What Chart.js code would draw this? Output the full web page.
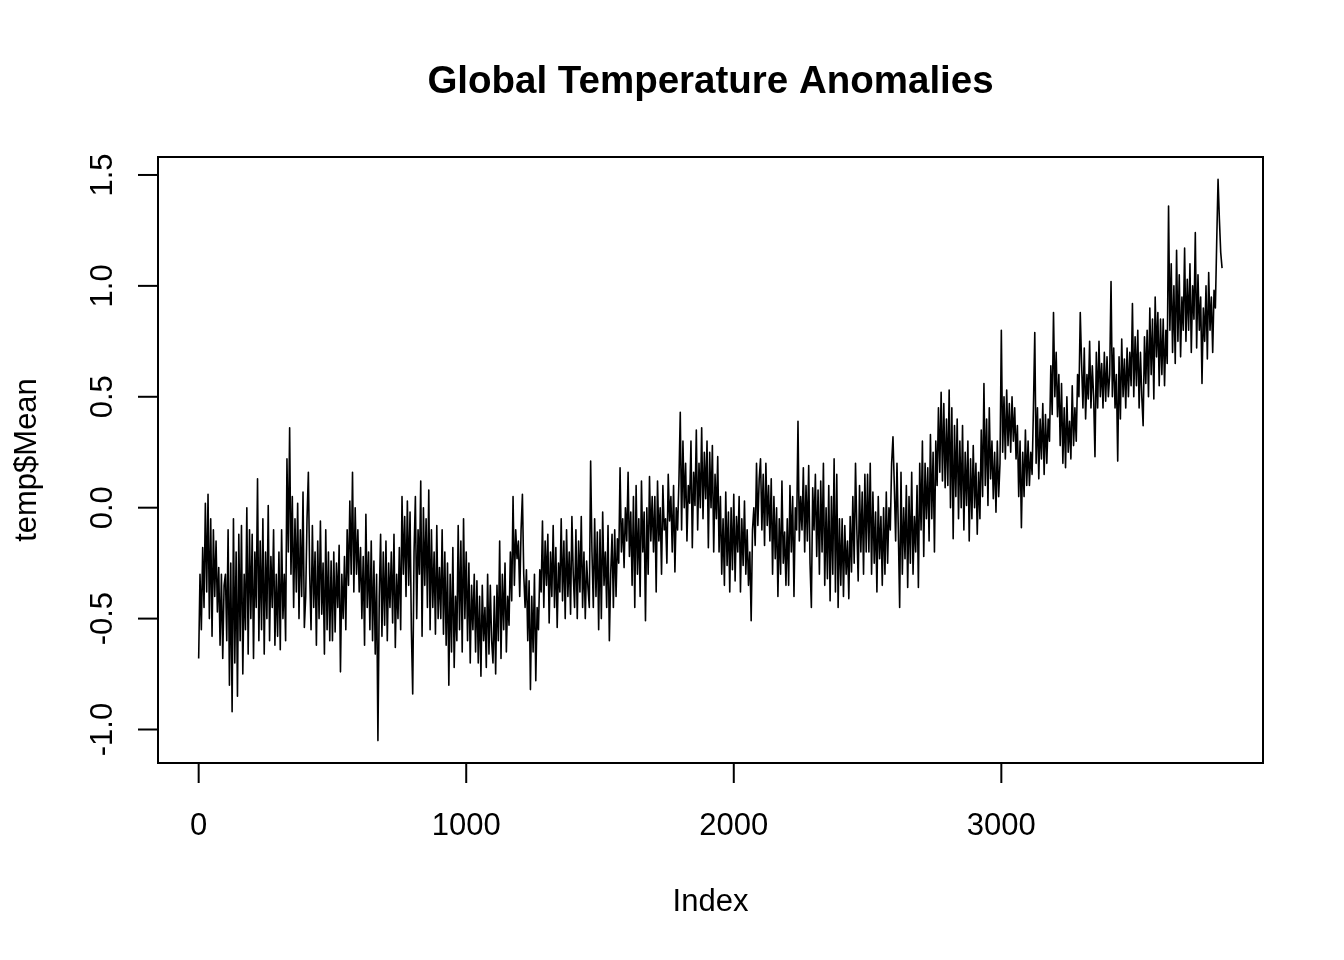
<!DOCTYPE html>
<html>
<head>
<meta charset="utf-8">
<script src="https://cdn.jsdelivr.net/npm/chart.js@4"></script>
<style>
  html, body { margin: 0; padding: 0; background: #ffffff; }
  #wrap { width: 1344px; height: 960px; }
</style>
</head>
<body>
<div id="wrap"><canvas id="c" width="1344" height="960"></canvas></div>
<script>
// ---- data (one value every INDEX_STEP indices) ----
const INDEX_STEP = 5;
const TEMP_MEAN = [
  -0.68, -0.3, -0.55, -0.18, -0.45, 0.02, -0.38, 0.06, -0.5, -0.05, -0.58, -0.1, -0.4, -0.15, -0.47, -0.27, -0.62, -0.3, -0.68, -0.35,
  -0.3, -0.6, -0.1, -0.8, -0.25, -0.92, -0.05, -0.7, -0.2, -0.85, -0.12, -0.6, -0.08, -0.75, -0.3, -0.55, 0.0, -0.66, -0.1, -0.5,
  -0.12, -0.68, -0.2, -0.45, 0.13, -0.6, -0.15, -0.55, -0.05, -0.66, -0.2, -0.5, 0.01, -0.6, -0.22, -0.45, -0.1, -0.62, -0.3, -0.58,
  -0.2, -0.64, -0.1, -0.5, -0.3, -0.6, 0.22, -0.2, 0.36, -0.3, 0.05, -0.45, -0.05, -0.38, 0.02, -0.5, -0.1, -0.4, 0.07, -0.54,
  -0.4, -0.05, 0.16, -0.3, -0.55, -0.08, -0.45, -0.2, -0.62, -0.15, -0.5, -0.06, -0.48, -0.25, -0.66, -0.1, -0.55, -0.2, -0.6, -0.24,
  -0.6, -0.2, -0.56, -0.25, -0.45, -0.17, -0.74, -0.3, -0.5, -0.22, -0.55, -0.1, -0.35, 0.03, -0.3, 0.16, -0.38, 0.0, -0.3, -0.1,
  -0.38, -0.18, -0.5, -0.22, -0.62, -0.03, -0.45, -0.2, -0.55, -0.15, -0.6, -0.24, -0.66, -0.3, -1.05, -0.4, -0.12, -0.58, -0.2, -0.53,
  -0.15, -0.6, -0.25, -0.45, -0.2, -0.52, -0.12, -0.63, -0.3, -0.5, -0.18, -0.55, 0.05, -0.3, -0.04, -0.4, 0.03, -0.35, -0.02, -0.55,
  -0.84, -0.2, 0.05, -0.5, -0.1, -0.3, 0.12, -0.58, 0.0, -0.35, -0.05, -0.45, 0.08, -0.55, -0.1, -0.45, -0.2, -0.57, -0.08, -0.5,
  -0.27, -0.5, -0.1, -0.57, -0.2, -0.62, -0.25, -0.8, -0.3, -0.65, -0.18, -0.72, -0.4, -0.6, -0.08, -0.55, -0.15, -0.65, -0.05, -0.5,
  -0.2, -0.6, -0.25, -0.7, -0.35, -0.55, -0.3, -0.65, -0.33, -0.7, -0.4, -0.76, -0.35, -0.6, -0.45, -0.72, -0.3, -0.66, -0.35, -0.6,
  -0.7, -0.4, -0.75, -0.35, -0.6, -0.15, -0.68, -0.3, -0.55, -0.25, -0.65, -0.4, -0.53, -0.2, -0.42, 0.05, -0.35, -0.1, -0.23, -0.15,
  -0.4, -0.1, 0.06, -0.3, -0.45, -0.28, -0.6, -0.33, -0.82, -0.4, -0.65, -0.3, -0.78, -0.45, -0.55, -0.28, -0.38, -0.06, -0.45, -0.15,
  -0.35, -0.12, -0.52, -0.2, -0.4, -0.08, -0.45, -0.18, -0.54, -0.25, -0.38, -0.05, -0.42, -0.15, -0.5, -0.1, -0.4, -0.2, -0.48, -0.04,
  -0.3, -0.45, -0.1, -0.5, -0.15, -0.38, -0.04, -0.45, -0.2, -0.5, -0.24, -0.36, -0.45, 0.21, -0.2, -0.45, -0.05, -0.4, -0.11, -0.55,
  -0.1, -0.5, -0.02, -0.35, -0.2, -0.45, -0.08, -0.6, -0.3, -0.12, -0.45, -0.1, -0.4, -0.14, -0.25, 0.18, -0.2, -0.05, -0.27, 0.0,
  -0.15, 0.16, -0.22, -0.02, -0.35, 0.05, -0.45, 0.1, -0.3, -0.05, -0.4, 0.12, -0.2, -0.02, -0.51, 0.0, -0.3, 0.14, -0.15, 0.05,
  -0.2, 0.05, -0.38, 0.12, -0.15, 0.0, -0.3, 0.1, -0.1, -0.05, -0.25, 0.15, -0.06, 0.05, -0.2, 0.1, -0.29, 0.0, -0.1, 0.12,
  0.43, -0.1, 0.3, 0.0, 0.2, -0.15, 0.1, 0.02, 0.3, -0.18, 0.16, 0.01, 0.35, -0.1, 0.2, 0.0, 0.36, -0.05, 0.25, 0.04,
  0.3, -0.18, 0.25, 0.0, 0.28, -0.2, 0.15, -0.05, 0.23, -0.2, 0.05, -0.3, -0.05, -0.35, 0.07, -0.26, -0.02, -0.38, 0.0, -0.28,
  0.06, -0.33, -0.04, -0.2, 0.05, -0.38, -0.05, -0.26, 0.03, -0.3, -0.1, -0.35, -0.2, -0.51, -0.1, 0.0, -0.17, 0.2, -0.08, 0.13,
  0.22, -0.1, 0.15, -0.17, 0.2, -0.08, 0.1, -0.15, 0.13, -0.3, 0.05, -0.23, 0.0, -0.4, -0.05, -0.3, 0.12, -0.25, -0.11, -0.35,
  -0.05, -0.35, 0.1, -0.2, 0.05, -0.4, 0.0, -0.1, 0.39, -0.15, 0.05, -0.1, 0.18, -0.2, 0.1, -0.15, 0.19, -0.25, -0.45, 0.09,
  -0.1, 0.15, -0.22, 0.08, -0.3, 0.12, -0.2, 0.2, -0.35, 0.0, -0.32, 0.1, -0.42, 0.05, -0.3, 0.22, -0.38, 0.15, -0.45, -0.05,
  -0.35, -0.05, -0.4, -0.08, -0.3, -0.15, -0.41, -0.04, -0.29, 0.05, -0.25, 0.2, -0.1, -0.33, 0.1, -0.2, 0.07, -0.3, 0.15, -0.2,
  0.15, -0.2, 0.2, -0.3, 0.07, -0.25, -0.02, -0.38, 0.05, -0.23, -0.04, -0.35, 0.0, -0.3, 0.07, -0.25, 0.0, -0.1, 0.2, 0.32,
  0.1, -0.15, 0.2, -0.1, -0.45, 0.16, -0.3, 0.0, -0.23, 0.1, -0.36, 0.05, -0.25, 0.16, -0.3, -0.04, -0.2, 0.1, -0.36, 0.2,
  -0.1, 0.3, -0.22, 0.2, -0.05, 0.18, -0.15, 0.33, -0.05, 0.25, -0.2, 0.3, 0.1, 0.45, 0.16, 0.52, 0.12, 0.47, 0.09, 0.4,
  0.1, 0.53, 0.0, 0.45, -0.14, 0.37, 0.05, 0.4, -0.05, 0.3, 0.0, 0.37, -0.1, 0.25, 0.01, 0.3, -0.15, 0.22, -0.05, 0.28,
  0.0, 0.2, -0.12, 0.16, -0.05, 0.35, 0.05, 0.56, 0.1, 0.4, 0.01, 0.45, 0.13, 0.3, 0.04, 0.25, -0.02, 0.3, 0.05, 0.2,
  0.8, 0.25, 0.5, 0.22, 0.53, 0.28, 0.47, 0.25, 0.5, 0.3, 0.45, 0.22, 0.37, 0.05, 0.3, -0.09, 0.25, 0.05, 0.35, 0.1,
  0.3, 0.1, 0.25, 0.15, 0.45, 0.79, 0.2, 0.45, 0.13, 0.4, 0.22, 0.47, 0.15, 0.42, 0.2, 0.4, 0.3, 0.64, 0.42, 0.88,
  0.5, 0.7, 0.41, 0.6, 0.28, 0.56, 0.2, 0.45, 0.18, 0.5, 0.25, 0.39, 0.22, 0.55, 0.28, 0.45, 0.3, 0.6, 0.5, 0.88,
  0.65, 0.45, 0.72, 0.4, 0.6, 0.49, 0.75, 0.45, 0.64, 0.5, 0.23, 0.7, 0.45, 0.75, 0.5, 0.65, 0.45, 0.7, 0.48, 0.68,
  0.5, 0.6, 1.02, 0.5, 0.72, 0.45, 0.6, 0.21, 0.68, 0.4, 0.76, 0.5, 0.67, 0.45, 0.72, 0.5, 0.7, 0.55, 0.92, 0.5,
  0.77, 0.55, 0.8, 0.45, 0.7, 0.5, 0.37, 0.77, 0.56, 0.8, 0.5, 0.9, 0.6, 0.85, 0.49, 0.95, 0.68, 0.88, 0.55, 0.85,
  0.6, 0.85, 0.55, 0.8, 0.65, 1.36, 0.8, 1.1, 0.7, 1.0, 0.65, 1.16, 0.75, 1.05, 0.68, 0.95, 0.8, 1.17, 0.75, 1.03,
  0.8, 1.1, 0.7, 1.0, 0.85, 1.24, 0.72, 1.05, 0.8, 0.95, 0.56, 0.9, 0.75, 1.0, 0.67, 1.06, 0.8, 0.95, 0.7, 0.98,
  0.9, 1.2, 1.48, 1.3, 1.15, 1.08
];
const X_TICKS = [0, 1000, 2000, 3000];
const Y_TICKS = [-1.0, -0.5, 0.0, 0.5, 1.0, 1.5];
const TITLE_TEXT = 'Global Temperature Anomalies';
const X_TITLE = 'Index';
const Y_TITLE = 'temp$Mean';

const points = TEMP_MEAN.map((v, i) => ({ x: i * INDEX_STEP, y: v }));

const FONT = '"Liberation Sans", Arial, Helvetica, sans-serif';

const rAxes = {
  id: 'rAxes',
  beforeDraw(chart) {
    const ctx = chart.ctx;
    ctx.save();
    ctx.fillStyle = '#ffffff';
    ctx.fillRect(0, 0, chart.width, chart.height);
    ctx.restore();
  },
  afterDraw(chart) {
    const ctx = chart.ctx;
    const a = chart.chartArea;
    const xs = chart.scales.x, ys = chart.scales.y;
    ctx.save();
    ctx.strokeStyle = '#000';
    ctx.fillStyle = '#000';
    ctx.lineWidth = 2;
    ctx.lineCap = 'butt';
    // box
    ctx.strokeRect(a.left, a.top, a.right - a.left, a.bottom - a.top);
    // x ticks + labels
    ctx.font = '31px ' + FONT;
    ctx.textAlign = 'center';
    ctx.textBaseline = 'alphabetic';
    xs.ticks.forEach(t => {
      const px = xs.getPixelForValue(t.value);
      ctx.beginPath();
      ctx.moveTo(px, a.bottom);
      ctx.lineTo(px, a.bottom + 20);
      ctx.stroke();
      ctx.fillText(t.label != null ? t.label : String(t.value), px, a.bottom + 72);
    });
    // y ticks + rotated labels
    ys.ticks.forEach(t => {
      const py = ys.getPixelForValue(t.value);
      ctx.beginPath();
      ctx.moveTo(a.left, py);
      ctx.lineTo(a.left - 20, py);
      ctx.stroke();
      ctx.save();
      ctx.translate(a.left - 46, py);
      ctx.rotate(-Math.PI / 2);
      ctx.textAlign = 'center';
      ctx.textBaseline = 'alphabetic';
      ctx.fillText(t.label != null ? t.label : t.value.toFixed(1), 0, 0);
      ctx.restore();
    });
    // axis titles
    ctx.textAlign = 'center';
    ctx.fillText(X_TITLE, (a.left + a.right) / 2, 911);
    ctx.save();
    ctx.translate(36, (a.top + a.bottom) / 2);
    ctx.rotate(-Math.PI / 2);
    ctx.fillText(Y_TITLE, 0, 0);
    ctx.restore();
    // main title
    ctx.font = 'bold 38.5px ' + FONT;
    ctx.fillText(TITLE_TEXT, (a.left + a.right) / 2, 93);
    ctx.restore();
  }
};

new Chart(document.getElementById('c'), {
  type: 'line',
  data: {
    datasets: [{
      data: points,
      borderColor: '#000000',
      borderWidth: 1.6,
      borderJoinStyle: 'round',
      pointRadius: 0,
      tension: 0,
      fill: false
    }]
  },
  options: {
    responsive: false,
    animation: false,
    devicePixelRatio: 1,
    layout: { padding: { left: 158, top: 157, right: 81, bottom: 197 } },
    plugins: { legend: { display: false }, title: { display: false }, tooltip: { enabled: false } },
    scales: {
      x: {
        type: 'linear', display: false, min: -152, max: 3978,
        afterBuildTicks: s => { s.ticks = X_TICKS.map(v => ({ value: v })); },
        ticks: { callback: v => String(v) }
      },
      y: {
        type: 'linear', display: false, min: -1.151, max: 1.581,
        afterBuildTicks: s => { s.ticks = Y_TICKS.map(v => ({ value: v })); },
        ticks: { callback: v => Number(v).toFixed(1) }
      }
    }
  },
  plugins: [rAxes]
});
</script>
</body>
</html>
